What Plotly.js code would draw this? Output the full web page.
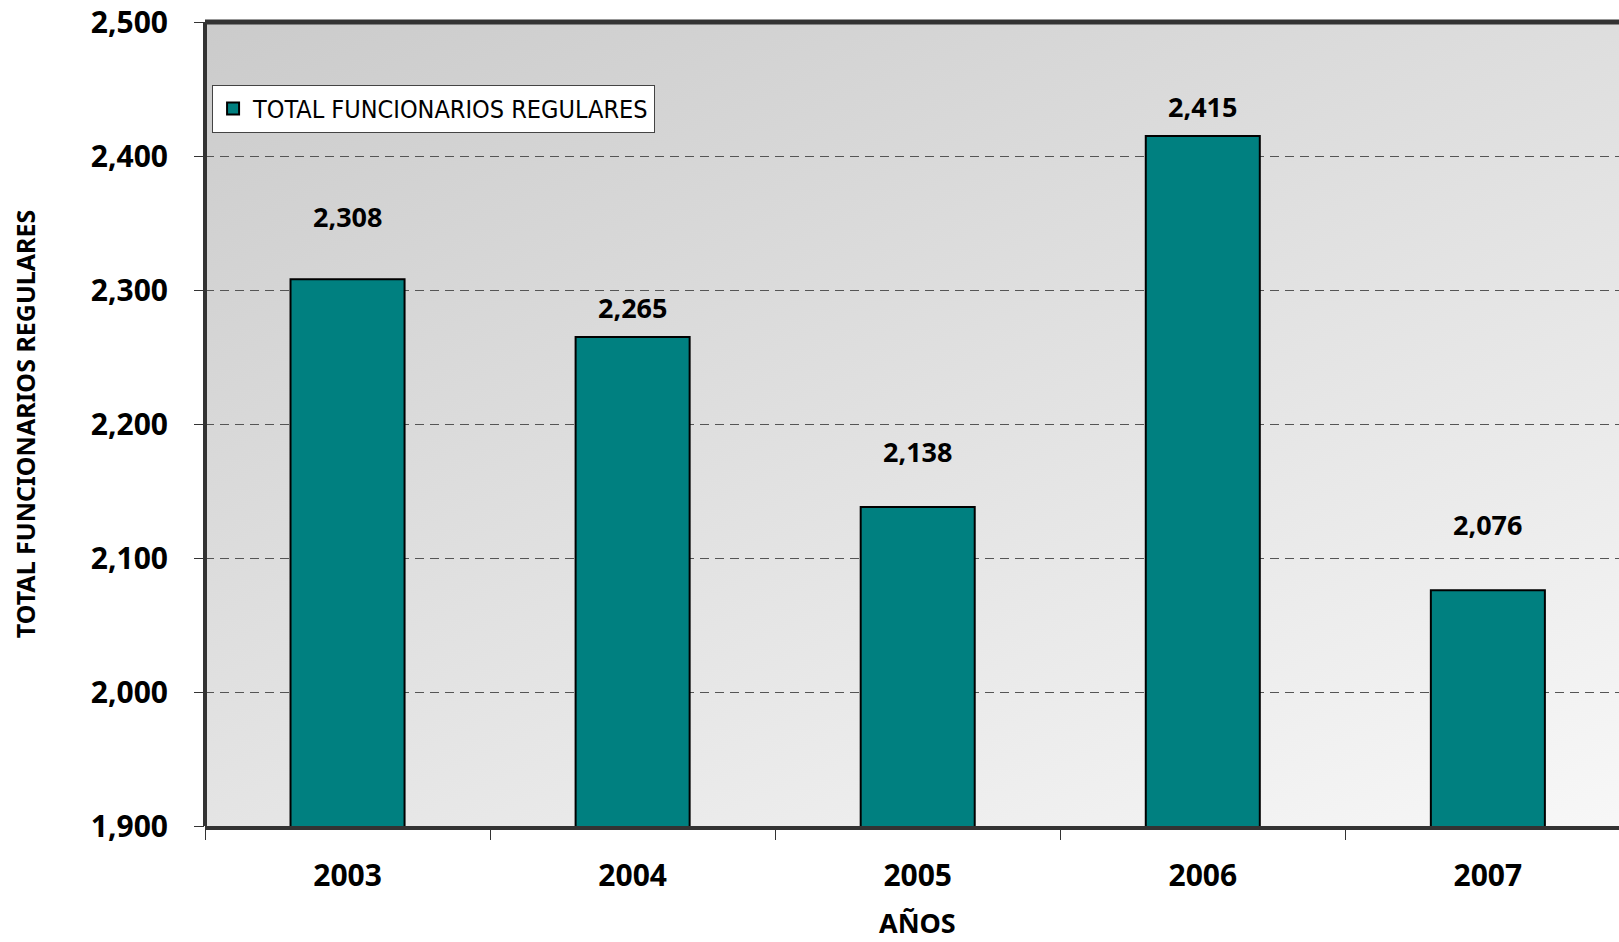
<!DOCTYPE html>
<html>
<head>
<meta charset="utf-8">
<script src="https://cdn.plot.ly/plotly-3.0.1.min.js"></script>
<style>
  html, body { margin: 0; padding: 0; background: #ffffff; }
  #chart { width: 1619px; height: 942px; }
</style>
</head>
<body>
<div id="chart"></div>
<script>
// ---- data ----
const years = ['2003', '2004', '2005', '2006', '2007'];
const totals = [2308, 2265, 2138, 2415, 2076];
const seriesName = 'TOTAL FUNCIONARIOS REGULARES';
const yTickValues = [1900, 2000, 2100, 2200, 2300, 2400, 2500];
const xTitle = 'AÑOS';
const yTitle = 'TOTAL FUNCIONARIOS REGULARES';

// ---- style (label offsets above bar tops, px) ----
const labelShift = [63, 29, 56, 29, 66];

// gradient background for the plot area
function gradientURL() {
  const w = 1414, h = 804;
  const c = document.createElement('canvas');
  c.width = w; c.height = h;
  const ctx = c.getContext('2d');
  const g = ctx.createLinearGradient(0, 0, 588, 1397);
  g.addColorStop(0, '#cbcbcb');
  g.addColorStop(1, '#ffffff');
  ctx.fillStyle = g;
  ctx.fillRect(0, 0, w, h);
  return c.toDataURL('image/png');
}

const boldFont = 'Noto Sans, DejaVu Sans, sans-serif';

const trace = {
  type: 'bar',
  x: years,
  y: totals,
  name: seriesName,
  width: 0.4,
  marker: { color: '#008080', line: { color: '#000000', width: 2 } },
  hoverinfo: 'x+y'
};

// category axis: annotation x given as category index
const annotations = years.map((yr, i) => ({
  x: i, y: totals[i], xref: 'x', yref: 'y',
  text: totals[i].toLocaleString('en-US'),
  showarrow: false, yshift: labelShift[i],
  font: { family: boldFont, size: 27, color: '#000000', weight: 'bold' }
}));
annotations.push({
  x: 2, y: 0, xref: 'x', yref: 'paper', yanchor: 'middle',
  yshift: -96, borderpad: 0, text: xTitle, showarrow: false,
  font: { family: boldFont, size: 27, color: '#000000', weight: 'bold' }
});

const layout = {
  width: 1619, height: 942,
  margin: { l: 205, r: 0, t: 22, b: 116, pad: 0 },
  paper_bgcolor: '#ffffff',
  plot_bgcolor: 'rgba(0,0,0,0)',
  showlegend: true,
  legend: {
    x: 0.005, y: 0.922, xanchor: 'left', yanchor: 'top',
    bgcolor: '#ffffff', bordercolor: '#444444', borderwidth: 1,
    font: { family: 'DejaVu Sans Condensed, Liberation Sans Narrow, sans-serif', size: 25, color: '#000000' }
  },
  xaxis: {
    type: 'category',
    range: [-0.5, 4.46],
    showline: true, linecolor: '#333333', linewidth: 4, mirror: false,
    ticks: 'outside', tickson: 'boundaries', ticklen: 10, tickwidth: 1, tickcolor: '#333333',
    ticklabelstandoff: 20,
    tickfont: { family: boldFont, size: 30, color: '#000000', weight: 'bold' },
    showgrid: false, zeroline: false, fixedrange: true
  },
  yaxis: {
    range: [1900, 2500],
    tickvals: yTickValues,
    tickformat: ',d',
    showline: false,
    ticks: 'outside', ticklen: 10, tickwidth: 1, tickcolor: '#333333',
    ticklabelstandoff: 20,
    tickfont: { family: boldFont, size: 30, color: '#000000', weight: 'bold' },
    showgrid: true, gridcolor: '#555555', gridwidth: 1, griddash: '9px,6px',
    zeroline: false, fixedrange: true,
    title: { text: yTitle, standoff: 48,
      font: { family: boldFont, size: 25, color: '#000000', weight: 'bold' } }
  },
  shapes: [
    { type: 'line', xref: 'paper', yref: 'paper', x0: 0, x1: 1, y0: 1, y1: 1,
      line: { color: '#333333', width: 5 }, layer: 'above' },
    { type: 'line', xref: 'paper', yref: 'paper', x0: 0, x1: 0, y0: 0, y1: 1,
      line: { color: '#333333', width: 4 }, layer: 'above' }
  ],
  images: [{
    source: gradientURL(), xref: 'paper', yref: 'paper',
    x: 0, y: 1, sizex: 1, sizey: 1, sizing: 'stretch',
    xanchor: 'left', yanchor: 'top', layer: 'below'
  }],
  annotations: annotations
};

Plotly.newPlot('chart', [trace], layout, { displayModeBar: false });
</script>
</body>
</html>
